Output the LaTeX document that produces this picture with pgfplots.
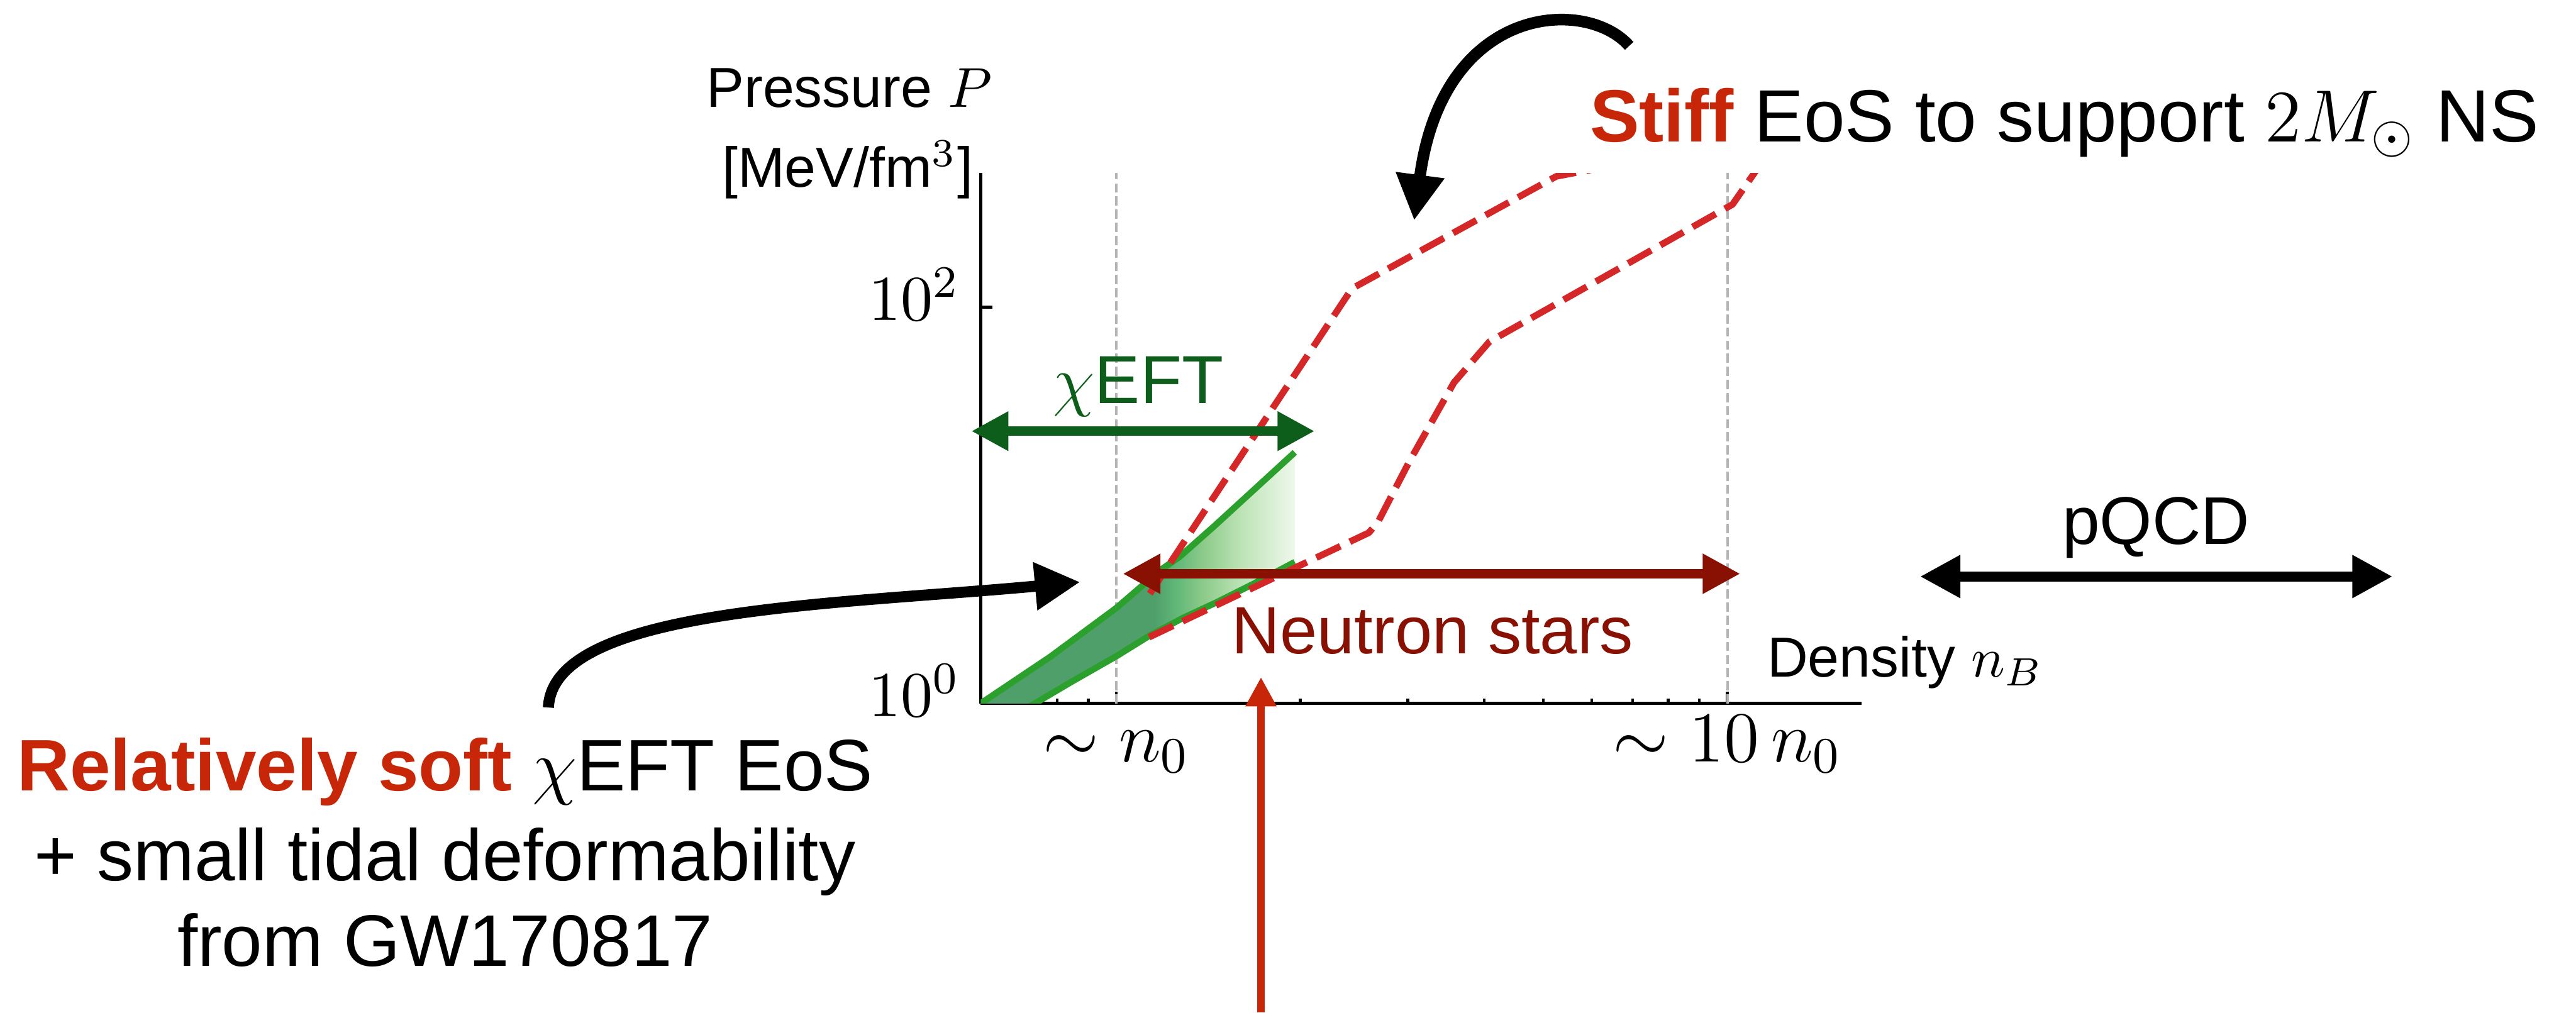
\documentclass[border=0pt]{standalone}
\usepackage{fix-cm}
\usepackage[no-math]{fontspec}
\setmainfont{Liberation Sans}
\usepackage{pgfplots}
\pgfplotsset{compat=1.18}
\usetikzlibrary{arrows.meta}

\definecolor{eftgreen}{RGB}{44,160,44}
\definecolor{eosred}{RGB}{214,39,40}
\definecolor{dkgreen}{RGB}{14,94,27}
\definecolor{maroonc}{RGB}{136,17,3}
\definecolor{txtred}{RGB}{200,38,8}
\definecolor{grayline}{RGB}{180,180,180}
\definecolor{bandA}{RGB}{79,159,107}
\definecolor{bandB}{RGB}{98,184,120}
\definecolor{bandC}{RGB}{143,204,140}
\definecolor{bandD}{RGB}{189,227,182}
\definecolor{bandE}{RGB}{224,242,220}
\definecolor{bandF}{RGB}{239,248,236}
\pgfdeclarehorizontalshading{eftfade}{100bp}{color(0bp)=(bandA); color(52.75bp)=(bandA); color(56.25bp)=(bandB); color(60.75bp)=(bandC); color(66.5bp)=(bandD); color(72.5bp)=(bandE); color(75bp)=(bandF); color(100bp)=(bandF)}

\begin{document}
\begin{tikzpicture}
\useasboundingbox (0pt,0pt) rectangle (466pt,-183.2pt);
\begin{axis}[
  at={(177.4pt,-127.27pt)}, anchor=south west,
  scale only axis, width=159.4pt, height=95.97pt,
  xmode=log, ymode=log,
  xmin=0.6, xmax=16.6, ymin=1, ymax=475,
  axis x line*=bottom, axis y line*=left,
  xtick pos=left, ytick pos=left,
  axis line style={line width=0.6pt, black},
  xtick={1,10}, xticklabels={$\sim n_0$, $\sim 10\,n_0$},
  minor xtick={0.7,0.8,0.9,2,3,4,5,6,7,8,9},
  ytick={1,100}, yticklabels={$10^0$,$10^2$},
  yminorticks=false,
  tick align=inside,
  major tick length=2.1pt, minor tick length=0.9pt,
  tick style={black, line width=0.5pt},
  xticklabel style={font=\fontsize{13}{15}\selectfont, anchor=base, yshift=-10.5pt},
  yticklabel style={font=\fontsize{11.6}{13}\selectfont, anchor=base east, yshift=-2.4pt, inner xsep=3.6pt},
  every axis plot/.append style={mark=none},
  clip=true,
]
% reference densities
\addplot[grayline, line width=0.45pt, dash pattern=on 1.67pt off 0.7pt] coordinates {(1,1) (1,475)};
\addplot[grayline, line width=0.45pt, dash pattern=on 1.67pt off 0.7pt] coordinates {(10,1) (10,475)};
% chiEFT band (upper bound, then lower bound reversed)
\addplot[draw=none, shading=eftfade] coordinates {
  (0.6,1.0) (0.78,1.72) (1.0,3.03) (1.18,4.7) (1.27,5.5) (1.45,7.9) (1.96,18.5)
  (1.96,5.17) (1.674,4.0) (1.457,3.23) (1.286,2.7) (1.134,2.2) (1.0,1.73) (0.85,1.3) (0.736,1.0) (0.6,0.69)};
% chiEFT bounds
\addplot[eftgreen, line width=1.15pt, line join=round] coordinates {
  (0.6,1.0) (0.78,1.72) (1.0,3.03) (1.18,4.7) (1.27,5.5) (1.45,7.9) (1.96,18.5)};
\addplot[eftgreen, line width=1.15pt, line join=round] coordinates {
  (0.6,0.69) (0.736,1.0) (0.85,1.3) (1.0,1.73) (1.134,2.2) (1.286,2.7) (1.457,3.23) (1.674,4.0) (1.96,5.17)};
% stiff EoS
\addplot[eosred, line width=1.2pt, line join=round, dash pattern=on 4.8pt off 1.9pt] coordinates {
  (1.135,3.58) (2.43,124) (5.25,457) (6.5,518)};
\addplot[eosred, line width=1.2pt, line join=round, dash pattern=on 4.8pt off 1.9pt] coordinates {
  (1.132,2.16) (2.59,7.27) (2.68,8.2) (2.84,11.6) (3.02,16.7) (3.21,23.3) (3.57,41.6) (4.08,66.9) (10.2,330) (11.3,520)};
\end{axis}

\begin{scope}[x=0.1pt,y=-0.1pt]
% axis titles
\node[anchor=base, font=\fontsize{10.2}{12}\selectfont] at (1536,194) {Pressure $P$};
\node[anchor=base, font=\fontsize{10.2}{12}\selectfont] at (1533,338) {[MeV/fm$^3$]};
\node[anchor=base west, inner sep=0pt, font=\fontsize{10.2}{12}\selectfont] at (3195,1225) {Density $n_B$};
% range arrows
\draw[dkgreen, line width=1.67pt, {Triangle[length=6.7pt,width=6.7pt]}-{Triangle[length=6.7pt,width=6.7pt]}] (1757,780) -- (2378,780);
\node[anchor=base, text=dkgreen, font=\fontsize{12.3}{14}\selectfont] at (2059,730) {$\chi$EFT};
\draw[maroonc, line width=1.8pt, {Triangle[length=6.8pt,width=6.8pt]}-{Triangle[length=6.8pt,width=6.8pt]}] (2031,1038) -- (3148,1038);
\node[anchor=base, text=maroonc, font=\fontsize{12.1}{14}\selectfont] at (2591,1182) {Neutron stars};
\draw[black, line width=1.85pt, {Triangle[length=7.3pt,width=7.3pt]}-{Triangle[length=7.3pt,width=7.3pt]}] (3473,1043) -- (4328,1043);
\node[anchor=base, font=\fontsize{12.2}{14}\selectfont] at (3900,985) {pQCD};
% red upward arrow
\draw[txtred, line width=1.3pt, -{Triangle[length=5.3pt,width=5.3pt]}] (2281,1832) -- (2281,1225);
% curved arrows
\draw[black, line width=2pt, -{Triangle[length=8.2pt,width=8.2pt]}] (992,1280) .. controls (1000,1100) and (1500,1095) .. (1954,1053);
\draw[black, line width=2.1pt, -{Triangle[length=8.3pt,width=8.3pt]}] (2947,83) .. controls (2870,-5) and (2610,5) .. (2558,399);
% annotations
\node[anchor=base west, inner sep=0pt, font=\fontsize{13.4}{16}\selectfont] at (2874,256) {\textcolor{txtred}{\bfseries Stiff} EoS to support $2M_\odot$ NS};
\node[anchor=base, inner sep=0pt, font=\fontsize{13.2}{16}\selectfont] at (805,1430) {\textcolor{txtred}{\bfseries Relatively soft} $\chi$EFT EoS};
\node[anchor=base, inner sep=0pt, font=\fontsize{13.2}{16}\selectfont] at (805,1593) {+ small tidal deformability};
\node[anchor=base, inner sep=0pt, font=\fontsize{13.2}{16}\selectfont] at (805,1748) {from GW170817};
\end{scope}
\end{tikzpicture}
\end{document}
